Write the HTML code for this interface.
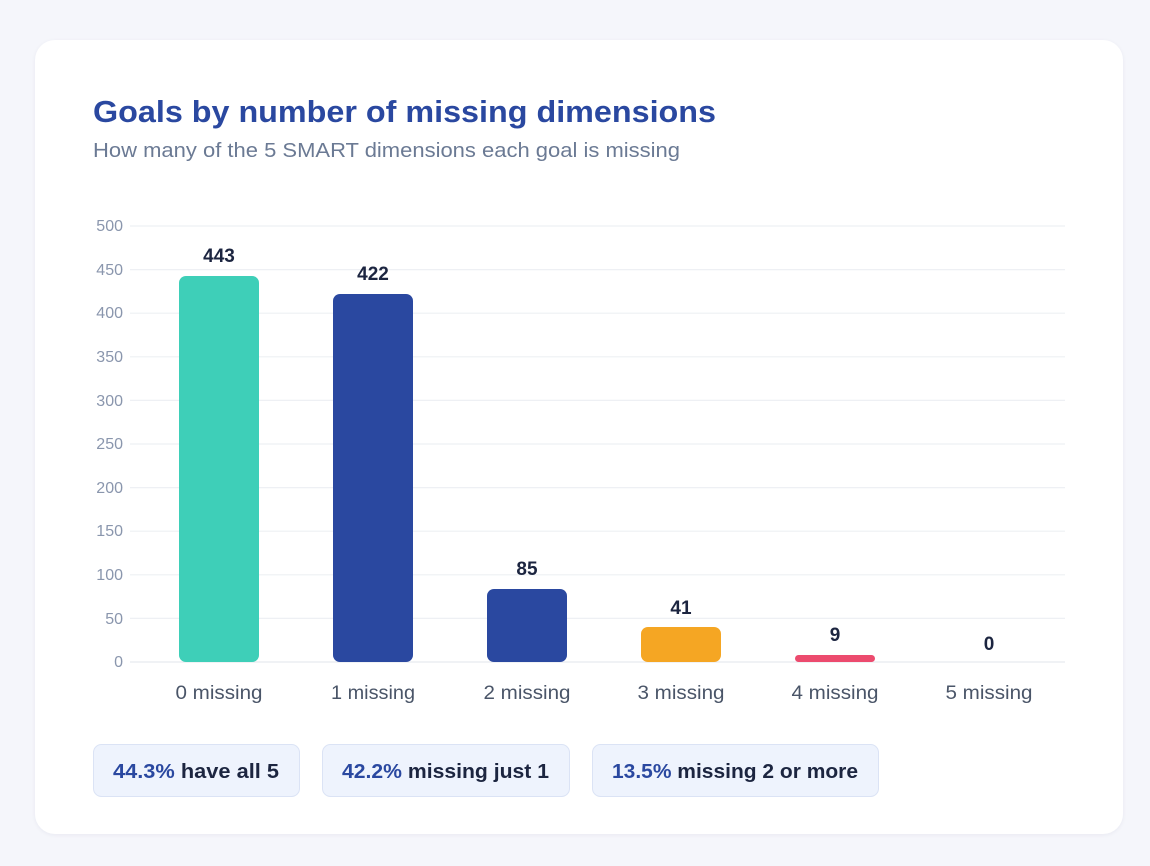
<!DOCTYPE html>
<html><head><meta charset="utf-8"><style>
html,body{margin:0;padding:0;background:#f5f6fb;width:1150px;height:866px;overflow:hidden}
.card{position:absolute;left:35px;top:40px;width:1088px;height:794px;background:#fff;border-radius:20px;box-shadow:0 1px 4px rgba(30,40,80,0.06)}
svg{position:absolute;left:0;top:0}
text{font-family:"Liberation Sans",sans-serif}
</style></head><body>
<div class="card"></div>
<svg width="1150" height="866" viewBox="0 0 1150 866">
<text x="93" y="122" font-size="31" font-weight="bold" fill="#2a48a0" textLength="623" lengthAdjust="spacingAndGlyphs">Goals by number of missing dimensions</text>
<text x="93" y="157" font-size="20" fill="#6b7a94" textLength="587" lengthAdjust="spacingAndGlyphs">How many of the 5 SMART dimensions each goal is missing</text>
<g stroke="#eef0f4" stroke-width="1.2">
<line x1="130" x2="1065" y1="226" y2="226"/><line x1="130" x2="1065" y1="269.6" y2="269.6"/>
<line x1="130" x2="1065" y1="313.2" y2="313.2"/><line x1="130" x2="1065" y1="356.8" y2="356.8"/>
<line x1="130" x2="1065" y1="400.4" y2="400.4"/><line x1="130" x2="1065" y1="444" y2="444"/>
<line x1="130" x2="1065" y1="487.6" y2="487.6"/><line x1="130" x2="1065" y1="531.2" y2="531.2"/>
<line x1="130" x2="1065" y1="574.8" y2="574.8"/><line x1="130" x2="1065" y1="618.4" y2="618.4"/>
<line x1="130" x2="1065" y1="662" y2="662" stroke="#e6e9ef"/>
</g>
<g font-size="16" fill="#8a96ad" text-anchor="end">
<text x="123" y="231">500</text><text x="123" y="275">450</text><text x="123" y="318">400</text>
<text x="123" y="362">350</text><text x="123" y="406">300</text><text x="123" y="449">250</text>
<text x="123" y="493">200</text><text x="123" y="536">150</text><text x="123" y="580">100</text>
<text x="123" y="624">50</text><text x="123" y="667">0</text>
</g>
<rect x="179" y="276" width="80" height="386" rx="7" fill="#3ecfb8"/>
<rect x="333" y="294" width="80" height="368" rx="7" fill="#2a48a0"/>
<rect x="487" y="589" width="80" height="73" rx="7" fill="#2a48a0"/>
<rect x="641" y="627" width="80" height="35" rx="7" fill="#f5a623"/>
<rect x="795" y="655" width="80" height="7" rx="3.5" fill="#ec4b6e"/>
<g font-size="19" font-weight="bold" fill="#1c2540" text-anchor="middle">
<text x="219" y="262">443</text><text x="373" y="280">422</text><text x="527" y="575">85</text>
<text x="681" y="614">41</text><text x="835" y="641">9</text><text x="989" y="650">0</text>
</g>
<g font-size="19" fill="#4a5568" text-anchor="middle">
<text x="219" y="699" textLength="87" lengthAdjust="spacingAndGlyphs">0 missing</text>
<text x="373" y="699" textLength="84" lengthAdjust="spacingAndGlyphs">1 missing</text>
<text x="527" y="699" textLength="87" lengthAdjust="spacingAndGlyphs">2 missing</text>
<text x="681" y="699" textLength="87" lengthAdjust="spacingAndGlyphs">3 missing</text>
<text x="835" y="699" textLength="87" lengthAdjust="spacingAndGlyphs">4 missing</text>
<text x="989" y="699" textLength="87" lengthAdjust="spacingAndGlyphs">5 missing</text>
</g>
<g fill="#eef3fd" stroke="#dbe3f5">
<rect x="93.5" y="744.5" width="206" height="52" rx="8"/>
<rect x="322.5" y="744.5" width="247" height="52" rx="8"/>
<rect x="592.5" y="744.5" width="286" height="52" rx="8"/>
</g>
<g font-size="20" font-weight="bold">
<text x="113" y="778" textLength="166" lengthAdjust="spacingAndGlyphs"><tspan fill="#2a48a0">44.3%</tspan><tspan fill="#1c2540"> have all 5</tspan></text>
<text x="342" y="778" textLength="207" lengthAdjust="spacingAndGlyphs"><tspan fill="#2a48a0">42.2%</tspan><tspan fill="#1c2540"> missing just 1</tspan></text>
<text x="612" y="778" textLength="246" lengthAdjust="spacingAndGlyphs"><tspan fill="#2a48a0">13.5%</tspan><tspan fill="#1c2540"> missing 2 or more</tspan></text>
</g>
</svg>
</body></html>
